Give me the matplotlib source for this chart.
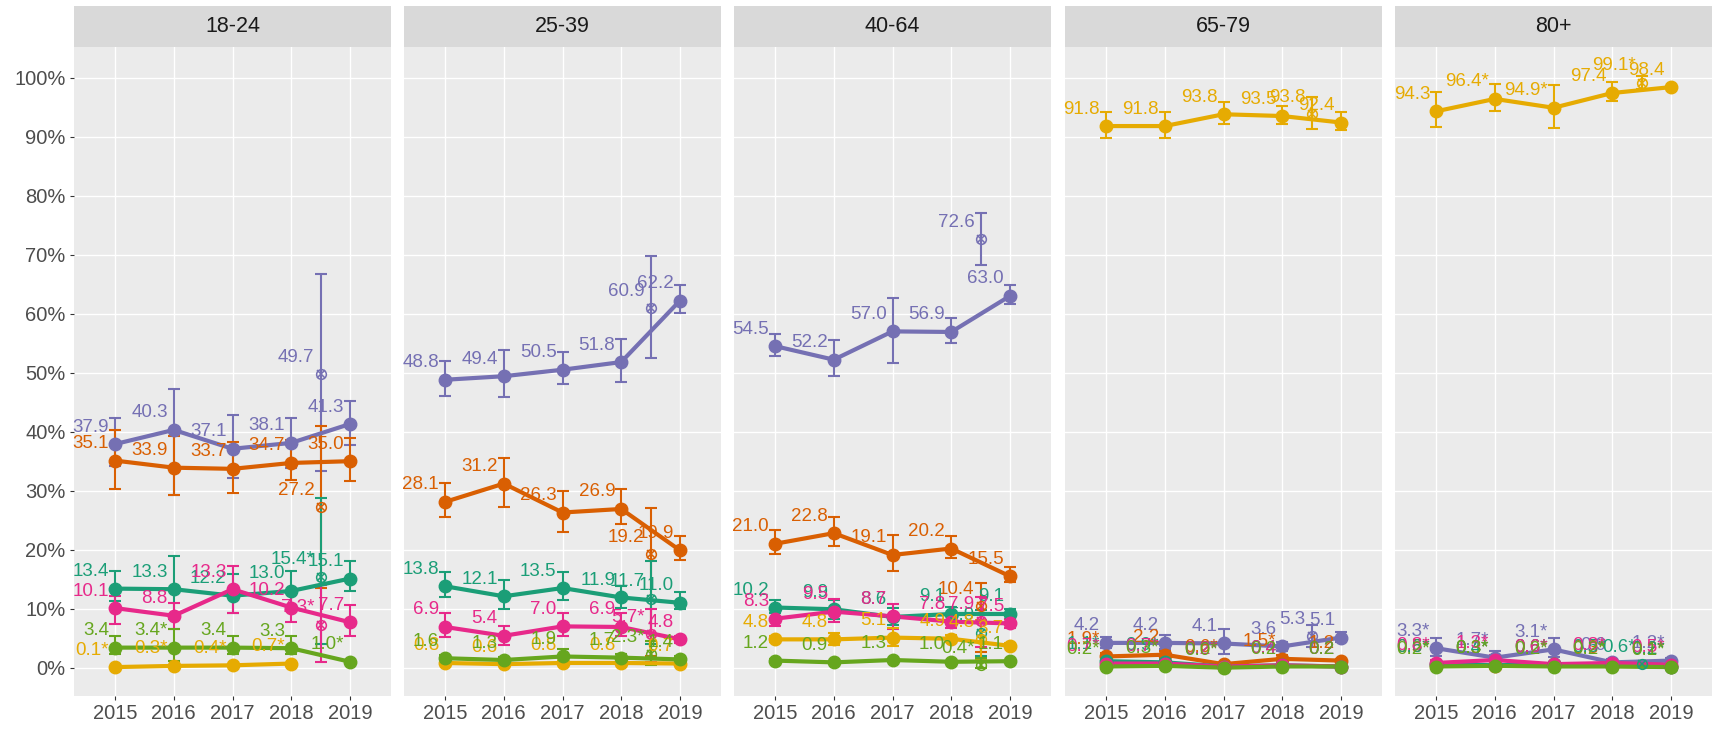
import matplotlib
matplotlib.use("Agg")
import matplotlib.pyplot as plt
import numpy as np

nan = np.nan

years = [2015, 2016, 2017, 2018, 2019]
extra_x = 2018.5
panels = ["18-24", "25-39", "40-64", "65-79", "80+"]
order = ["purple", "orange", "teal", "magenta", "yellow", "green"]
colors = {"purple": "#7570B3", "orange": "#D95F02", "teal": "#1B9E77",
          "magenta": "#E7298A", "yellow": "#E6AB02", "green": "#66A61E"}
y_ticks = [0, 10, 20, 30, 40, 50, 60, 70, 80, 90, 100]

# ---- 18-24 ----
vals_1824 = {
    "purple": [37.9, 40.3, 37.1, 38.1, 41.3],
    "orange": [35.1, 33.9, 33.7, 34.7, 35.0],
    "teal": [13.4, 13.3, 12.2, 13.0, 15.1],
    "magenta": [10.1, 8.8, 13.3, 10.2, 7.7],
    "green": [3.4, 3.4, 3.4, 3.3, 1.0],
    "yellow": [0.1, 0.3, 0.4, 0.7, nan],
}
low_1824 = {
    "purple": [34.1, 29.3, 32.1, 33.8, 37.8],
    "orange": [30.3, 29.2, 29.6, 31.8, 31.6],
    "teal": [11.3, 8.2, 9.3, 10.7, 13.0],
    "magenta": [7.4, 6.5, 9.3, 7.7, 5.4],
    "green": [2.3, 1.2, 2.3, 2.3, 1.0],
    "yellow": [0.1, 0.3, 0.4, 0.7, nan],
}
high_1824 = {
    "purple": [42.4, 47.3, 42.8, 42.3, 45.2],
    "orange": [40.3, 39.2, 38.3, 38.6, 38.9],
    "teal": [16.4, 19.0, 15.8, 16.4, 18.1],
    "magenta": [12.1, 11.0, 17.2, 12.7, 10.7],
    "green": [5.4, 6.5, 5.3, 5.3, 1.0],
    "yellow": [0.1, 0.3, 0.4, 0.7, nan],
}
star_1824 = {"green": [0, 1, 0, 0, 1], "yellow": [1, 1, 1, 1, 0]}
extra_1824 = {"purple": (49.7, 33.3, 66.7, 0), "orange": (27.2, 13.5, 41.0, 0),
              "teal": (15.4, 4.0, 28.8, 1), "magenta": (7.3, 0.9, 14.0, 1)}

# ---- 25-39 ----
vals_2539 = {
    "purple": [48.8, 49.4, 50.5, 51.8, 62.2],
    "orange": [28.1, 31.2, 26.3, 26.9, 19.9],
    "teal": [13.8, 12.1, 13.5, 11.9, 11.0],
    "magenta": [6.9, 5.4, 7.0, 6.9, 4.8],
    "yellow": [0.8, 0.6, 0.8, 0.8, 0.7],
    "green": [1.6, 1.3, 1.9, 1.7, 1.4],
}
low_2539 = {
    "purple": [46.1, 45.8, 48.0, 48.4, 60.2],
    "orange": [25.6, 27.3, 23.0, 24.3, 18.3],
    "teal": [11.9, 9.9, 11.5, 10.2, 9.9],
    "magenta": [5.2, 3.9, 5.4, 5.4, 4.2],
    "yellow": [0.5, 0.4, 0.5, 0.5, 0.4],
    "green": [1.0, 0.8, 0.9, 1.1, 0.9],
}
high_2539 = {
    "purple": [52.0, 53.8, 53.5, 55.7, 64.8],
    "orange": [31.3, 35.6, 30.0, 30.3, 22.3],
    "teal": [16.3, 14.8, 16.3, 13.9, 12.9],
    "magenta": [9.3, 7.0, 9.2, 9.3, 5.4],
    "yellow": [1.1, 0.8, 1.1, 1.1, 1.0],
    "green": [2.2, 1.8, 3.2, 2.3, 1.9],
}
star_2539 = {}
extra_2539 = {"purple": (60.9, 52.5, 69.8, 0), "orange": (19.2, 2.0, 27.1, 0),
              "teal": (11.7, 4.0, 18.0, 0), "magenta": (5.7, 1.0, 9.9, 1),
              "green": (2.3, 0.4, 4.5, 1)}

# ---- 40-64 ----
vals_4064 = {
    "purple": [54.5, 52.2, 57.0, 56.9, 63.0],
    "orange": [21.0, 22.8, 19.1, 20.2, 15.5],
    "teal": [10.2, 9.9, 8.6, 9.1, 9.1],
    "magenta": [8.3, 9.5, 8.7, 7.8, 7.5],
    "yellow": [4.8, 4.8, 5.1, 4.9, 3.7],
    "green": [1.2, 0.9, 1.3, 1.0, 1.1],
}
low_4064 = {
    "purple": [52.9, 49.5, 51.7, 55.0, 61.6],
    "orange": [19.3, 20.7, 16.4, 18.6, 14.6],
    "teal": [9.2, 8.3, 7.3, 8.0, 8.3],
    "magenta": [7.0, 7.7, 6.6, 6.7, 6.8],
    "yellow": [4.3, 3.9, 3.6, 4.3, 3.3],
    "green": [1.0, 0.7, 1.1, 0.8, 0.9],
}
high_4064 = {
    "purple": [56.6, 55.5, 62.7, 59.3, 64.9],
    "orange": [23.4, 25.5, 22.5, 22.3, 17.1],
    "teal": [11.5, 11.4, 10.2, 10.3, 10.0],
    "magenta": [9.7, 11.6, 10.8, 9.0, 8.3],
    "yellow": [5.3, 5.8, 6.7, 5.5, 4.2],
    "green": [1.4, 1.1, 1.5, 1.2, 1.3],
}
star_4064 = {}
extra_4064 = {"purple": (72.6, 68.3, 77.0, 0), "orange": (10.4, 2.6, 14.3, 0),
              "teal": (5.9, 2.0, 9.8, 0), "magenta": (7.9, 3.5, 12.0, 0),
              "yellow": (4.8, 1.5, 8.1, 0), "green": (0.4, 0.0, 1.6, 1)}

# ---- 65-79 ----
vals_6579 = {
    "purple": [4.2, 4.2, 4.1, 3.6, 5.1],
    "orange": [1.9, 2.2, 0.6, 1.5, 1.2],
    "teal": [1.1, 0.9, 0.2, 0.4, 0.2],
    "magenta": [0.7, 0.7, 0.2, 0.4, 0.2],
    "yellow": [91.8, 91.8, 93.8, 93.5, 92.4],
    "green": [0.2, 0.3, 0.0, 0.2, 0.2],
}
low_6579 = {
    "purple": [3.3, 3.2, 2.3, 2.9, 4.3],
    "orange": [1.4, 1.6, 0.3, 1.0, 0.9],
    "teal": [0.7, 0.5, 0.1, 0.2, 0.1],
    "magenta": [0.4, 0.4, 0.1, 0.2, 0.1],
    "yellow": [89.8, 89.7, 92.2, 92.1, 91.1],
    "green": [0.1, 0.1, 0.0, 0.1, 0.1],
}
high_6579 = {
    "purple": [5.2, 5.6, 6.6, 4.4, 6.0],
    "orange": [2.5, 2.9, 1.0, 2.1, 1.5],
    "teal": [1.6, 1.4, 0.4, 0.7, 0.4],
    "magenta": [1.1, 1.1, 0.4, 0.7, 0.4],
    "yellow": [94.2, 94.2, 95.8, 95.2, 94.2],
    "green": [0.4, 0.6, 0.1, 0.4, 0.4],
}
star_6579 = {"orange": [1, 0, 1, 1, 0], "teal": [1, 1, 1, 0, 0],
             "magenta": [1, 1, 1, 0, 0], "green": [1, 1, 1, 0, 0]}
extra_6579 = {"purple": (5.3, 3.5, 7.3, 0), "yellow": (93.8, 91.3, 96.7, 0)}

# ---- 80+ ----
vals_80 = {
    "purple": [3.3, 1.7, 3.1, 0.9, 1.2],
    "orange": [0.5, 0.3, 0.6, 0.3, 0.2],
    "teal": [0.6, 0.4, 0.6, 0.5, 0.2],
    "magenta": [0.8, 1.3, 0.6, 0.8, 0.5],
    "yellow": [94.3, 96.4, 94.9, 97.4, 98.4],
    "green": [0.2, 0.3, 0.2, 0.2, 0.1],
}
low_80 = {
    "purple": [2.0, 1.0, 1.8, 0.5, 0.8],
    "orange": [0.3, 0.1, 0.3, 0.1, 0.1],
    "teal": [0.3, 0.2, 0.3, 0.2, 0.1],
    "magenta": [0.4, 0.7, 0.3, 0.4, 0.2],
    "yellow": [91.7, 94.4, 91.5, 96.1, 98.4],
    "green": [0.1, 0.1, 0.1, 0.1, 0.0],
}
high_80 = {
    "purple": [5.1, 2.8, 5.1, 1.4, 1.6],
    "orange": [0.8, 0.6, 1.0, 0.6, 0.4],
    "teal": [1.0, 0.8, 1.0, 0.9, 0.4],
    "magenta": [1.3, 2.2, 1.0, 1.3, 0.9],
    "yellow": [97.6, 98.9, 98.8, 99.3, 98.4],
    "green": [0.4, 0.6, 0.4, 0.4, 0.3],
}
star_80 = {"purple": [1, 1, 1, 0, 1], "orange": [1, 1, 1, 1, 1],
           "teal": [1, 1, 1, 1, 1], "magenta": [1, 1, 1, 1, 1],
           "yellow": [0, 1, 1, 0, 0], "green": [1, 1, 1, 1, 1]}
extra_80 = {"yellow": (99.1, 98.0, 100.3, 1), "teal": (0.6, 0.1, 1.2, 1)}

panel_data = [
    (vals_1824, low_1824, high_1824, star_1824, extra_1824),
    (vals_2539, low_2539, high_2539, star_2539, extra_2539),
    (vals_4064, low_4064, high_4064, star_4064, extra_4064),
    (vals_6579, low_6579, high_6579, star_6579, extra_6579),
    (vals_80, low_80, high_80, star_80, extra_80),
]

plt.rcParams["font.family"] = ["Liberation Sans", "DejaVu Sans"]

W, H = 1713, 730
fig = plt.figure(figsize=(W / 100, H / 100), dpi=100)

panel_left = [74, 404, 734, 1065, 1395]
panel_w = 317
panel_top, panel_bot = 47, 696
strip_top = 6


def label(ax, x, y, star, c):
    ax.annotate(f"{y:.1f}" + ("*" if star else ""), (x, y), xytext=(-6, 17),
                textcoords="offset pixels", ha="right", va="center",
                color=c, fontsize=13.5, zorder=6)


def draw_panel(ax, vals, low, high, stars, extras):
    for name in order:
        c = colors[name]
        v = np.array(vals[name], dtype=float)
        lo = np.array(low[name], dtype=float)
        hi = np.array(high[name], dtype=float)
        ax.errorbar(years, v, yerr=[v - lo, hi - v], fmt="none", ecolor=c,
                    elinewidth=1.5, capsize=4.5, capthick=1.5, zorder=2)
        ax.plot(years, v, color=c, lw=3.0, zorder=3)
        ax.plot(years, v, "o", color=c, ms=9, zorder=4)
        st = stars.get(name, [0] * 5)
        for x, y, s in zip(years, v, st):
            if not np.isnan(y):
                label(ax, x, y, s, c)
        if name in extras:
            ev, elo, ehi, es = extras[name]
            ax.errorbar([extra_x], [ev], yerr=[[ev - elo], [ehi - ev]], fmt="none",
                        ecolor=c, elinewidth=1.5, capsize=4.5, capthick=1.5, zorder=2)
            ax.plot([extra_x], [ev], "o", mfc="none", mec=c, ms=7, mew=1.1, zorder=4)
            ax.plot([extra_x], [ev], "x", color=c, ms=6, mew=1.1, zorder=4)
            label(ax, extra_x, ev, es, c)


for i, name in enumerate(panels):
    left = panel_left[i] / W
    ax = fig.add_axes([left, (H - panel_bot) / H, panel_w / W, (panel_bot - panel_top) / H])
    ax.set_facecolor("#EBEBEB")
    for s in ax.spines.values():
        s.set_visible(False)
    ax.set_xlim(2014.3, 2019.7)
    ax.set_ylim(-4.8, 105.2)
    ax.set_xticks(years)
    ax.set_xticklabels([str(y) for y in years])
    ax.set_yticks(y_ticks)
    if i == 0:
        ax.set_yticklabels([f"{t}%" for t in y_ticks])
    else:
        ax.set_yticklabels([])
    ax.tick_params(axis="both", length=3, color="#333333", labelsize=14.5,
                   labelcolor="#4D4D4D", pad=3)
    ax.tick_params(axis="y", length=3 if i == 0 else 0)
    ax.grid(True, color="white", lw=1.0)
    ax.set_axisbelow(True)
    draw_panel(ax, *panel_data[i])

    sax = fig.add_axes([left, (H - panel_top) / H, panel_w / W, (panel_top - strip_top) / H])
    sax.set_facecolor("#D9D9D9")
    sax.set_xticks([])
    sax.set_yticks([])
    for s in sax.spines.values():
        s.set_visible(False)
    sax.text(0.5, 0.5, name, ha="center", va="center", fontsize=15.5, color="#1A1A1A",
             transform=sax.transAxes)

fig.savefig("out.png", dpi=100, facecolor="white")
